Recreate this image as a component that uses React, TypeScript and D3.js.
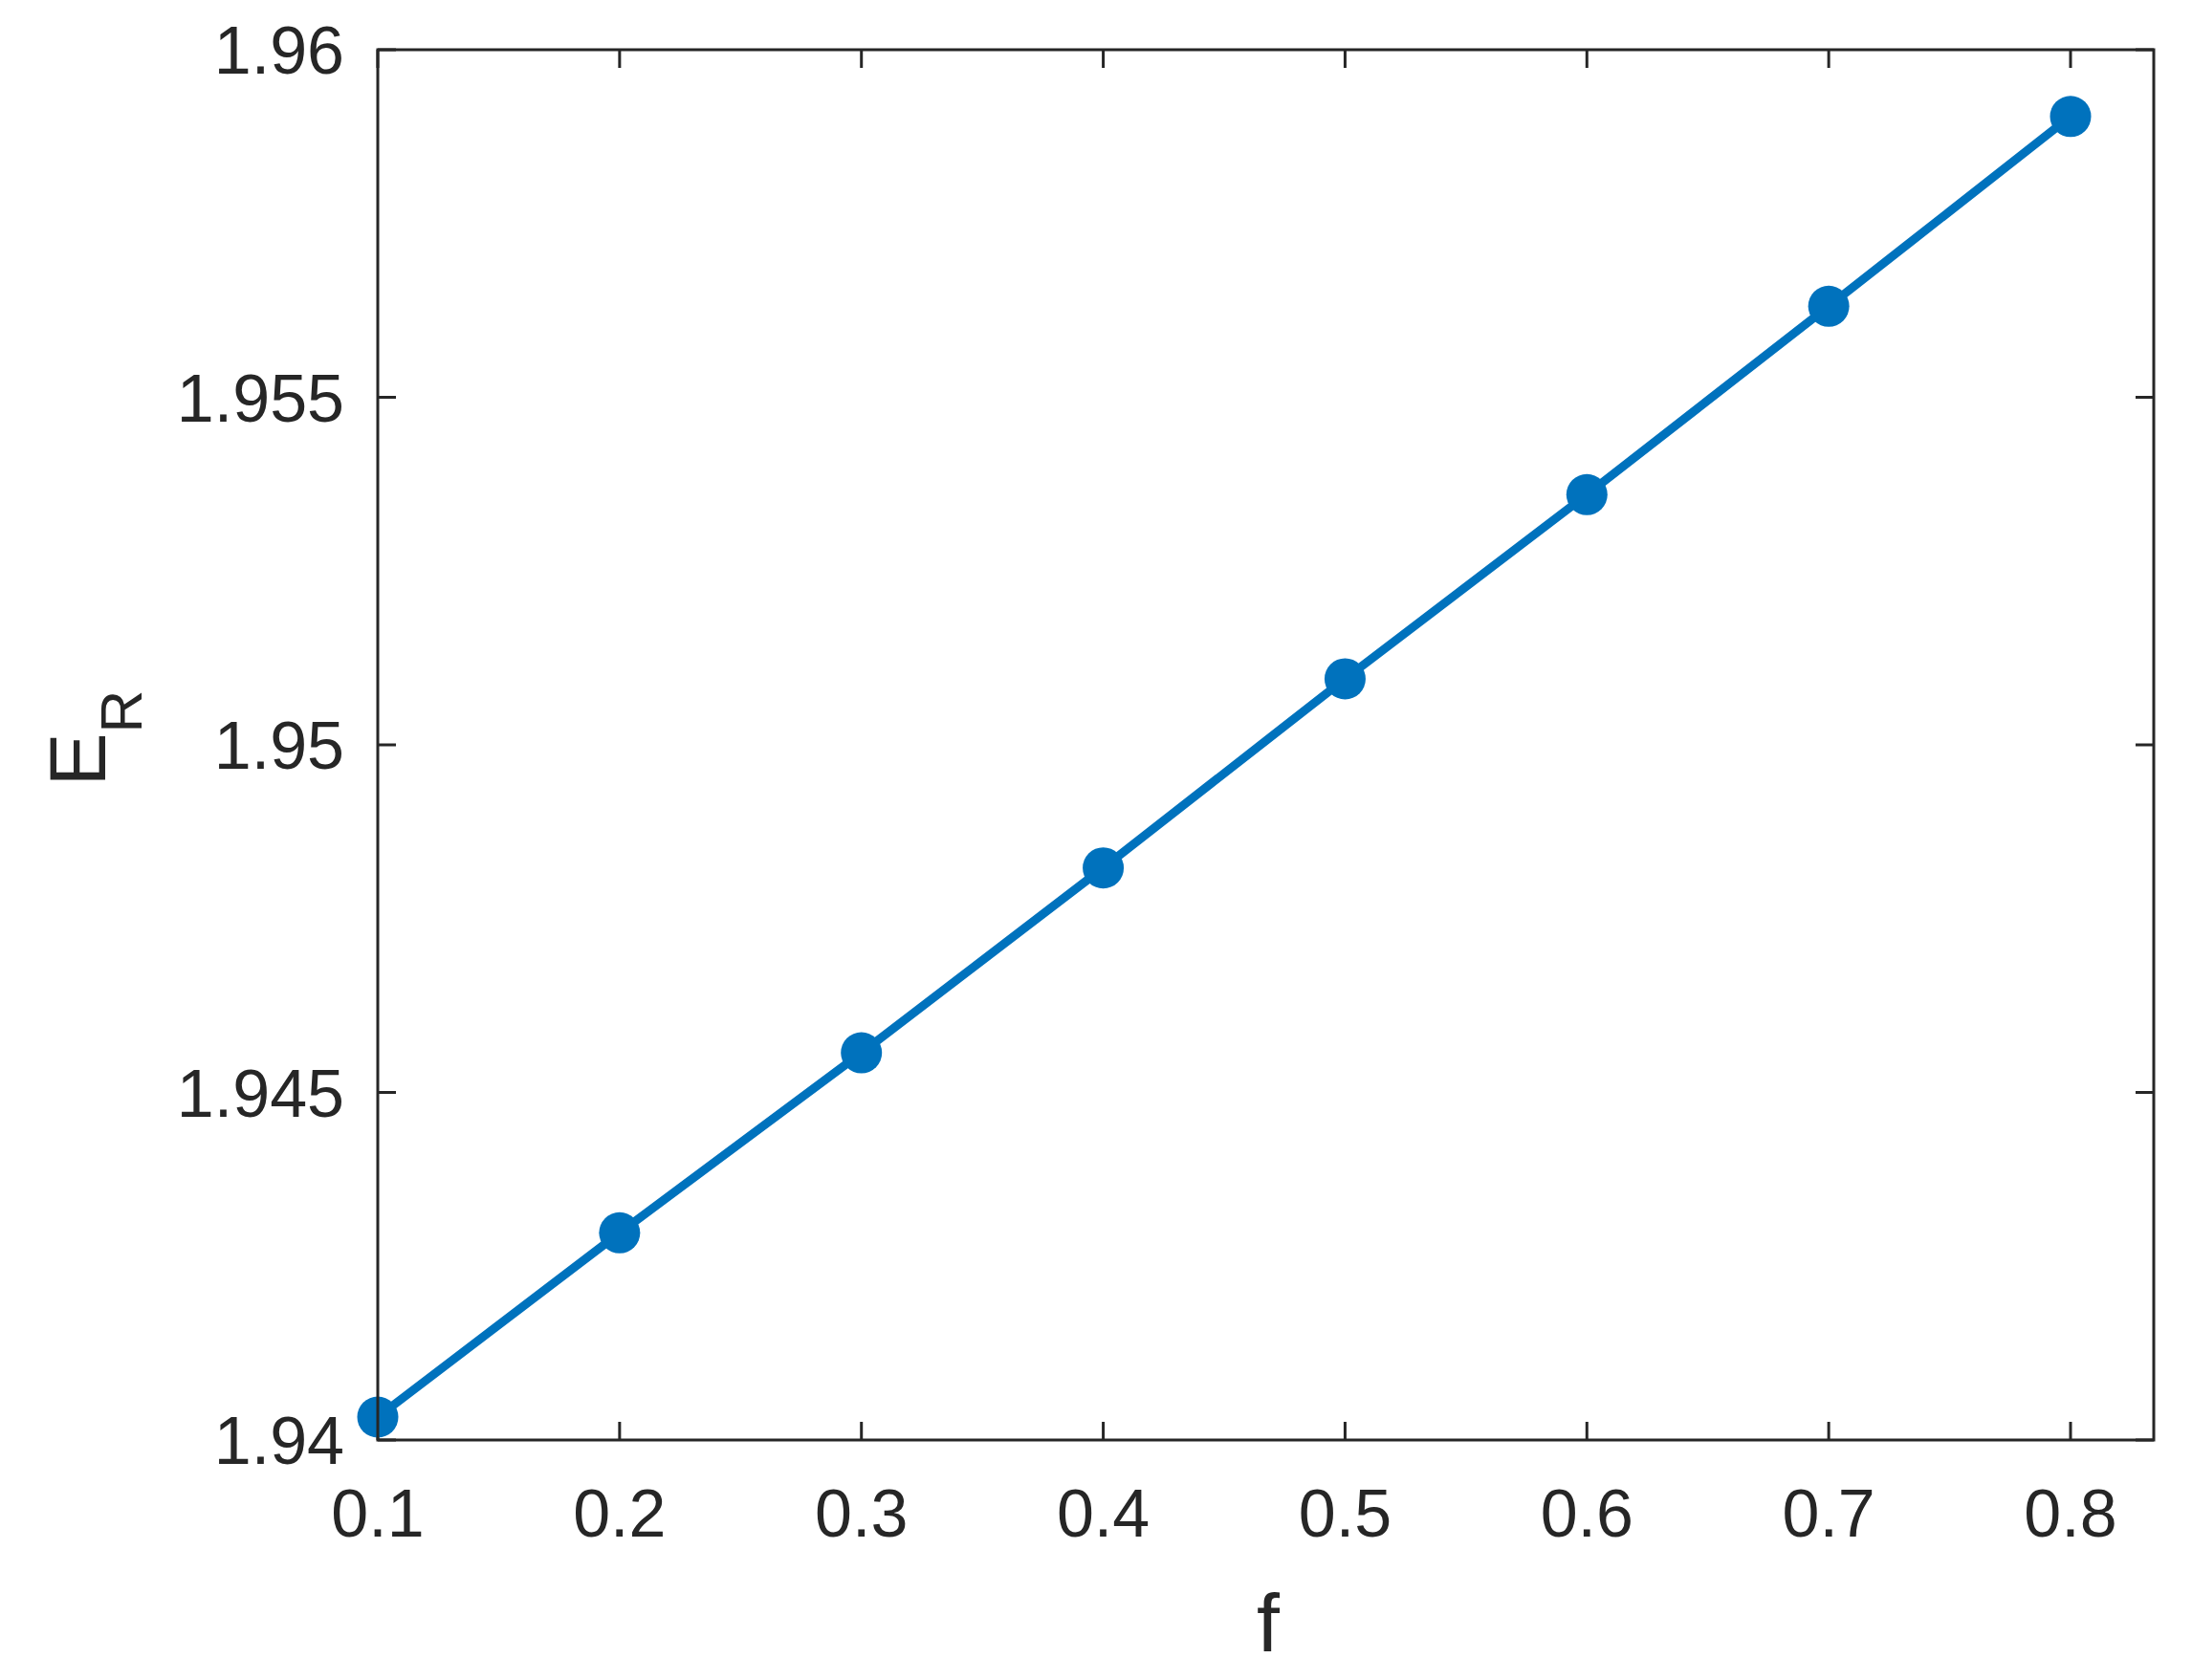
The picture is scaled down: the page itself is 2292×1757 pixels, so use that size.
import React from "react";
import * as d3 from "d3";

const fValues = [0.1, 0.2, 0.3, 0.4, 0.5, 0.6, 0.7, 0.8];
const erValues = [1.94033, 1.94298, 1.94557, 1.94823, 1.95095, 1.9536, 1.95631, 1.95904];
const xTicks = [0.1, 0.2, 0.3, 0.4, 0.5, 0.6, 0.7, 0.8];
const yTicks = [1.94, 1.945, 1.95, 1.955, 1.96];
const xTickLabels = ["0.1", "0.2", "0.3", "0.4", "0.5", "0.6", "0.7", "0.8"];
const yTickLabels = ["1.94", "1.945", "1.95", "1.955", "1.96"];

const W = 2292;
const H = 1757;
const left = 395;
const right = 2252;
const top = 52;
const bottom = 1506;
const axisColor = "#262626";
const lineColor = "#0072BD";
const font = "'Liberation Sans', Arial, Helvetica, sans-serif";

export default function App() {
  const x = d3.scaleLinear().domain([0.1, 0.1 + (right - left) / ((2165 - 395) / 0.7)]).range([left, right]);
  const y = d3.scaleLinear().domain([1.94, 1.96]).range([bottom, top]);
  const pts = fValues.map((f, i) => [f, erValues[i]] as [number, number]);
  const line = d3
    .line<[number, number]>()
    .x((d) => x(d[0]))
    .y((d) => y(d[1]));
  const tickLen = 19;

  return (
    <svg
      width={W}
      height={H}
      style={{ position: "absolute", left: 0, top: 0, display: "block", background: "#fff" }}
      fontFamily={font}
    >
      <rect x={0} y={0} width={W} height={H} fill="#fff" />
      {/* ticks */}
      {xTicks.map((t) => (
        <g key={"xt" + t}>
          <line x1={x(t)} x2={x(t)} y1={bottom} y2={bottom - tickLen} stroke={axisColor} strokeWidth={3} />
          <line x1={x(t)} x2={x(t)} y1={top} y2={top + tickLen} stroke={axisColor} strokeWidth={3} />
        </g>
      ))}
      {yTicks.map((t) => (
        <g key={"yt" + t}>
          <line x1={left} x2={left + tickLen} y1={y(t)} y2={y(t)} stroke={axisColor} strokeWidth={3} />
          <line x1={right} x2={right - tickLen} y1={y(t)} y2={y(t)} stroke={axisColor} strokeWidth={3} />
        </g>
      ))}
      {/* data line */}
      <path d={line(pts) || ""} fill="none" stroke={lineColor} strokeWidth={9} strokeLinejoin="round" />
      {pts.map((p, i) => (
        <circle key={i} cx={x(p[0])} cy={y(p[1])} r={21.5} fill={lineColor} />
      ))}
      {/* frame */}
      <rect x={left} y={top} width={right - left} height={bottom - top} fill="none" stroke={axisColor} strokeWidth={3} />
      {/* tick labels */}
      {xTicks.map((t, i) => (
        <text key={"xl" + t} x={x(t)} y={1607} textAnchor="middle" fontSize={70} fill={axisColor}>
          {xTickLabels[i]}
        </text>
      ))}
      {yTicks.map((t, i) => (
        <text key={"yl" + t} x={360} y={y(t) + 25} textAnchor="end" fontSize={70} fill={axisColor}>
          {yTickLabels[i]}
        </text>
      ))}
      {/* axis labels */}
      <text x={1326} y={1727} textAnchor="middle" fontSize={86} fill={axisColor}>
        f
      </text>
      <text transform={`translate(110, 772) rotate(-90)`} textAnchor="middle" fontSize={84} fill={axisColor}>
        E
        <tspan fontSize={62} dy={38}>
          R
        </tspan>
      </text>
    </svg>
  );
}
